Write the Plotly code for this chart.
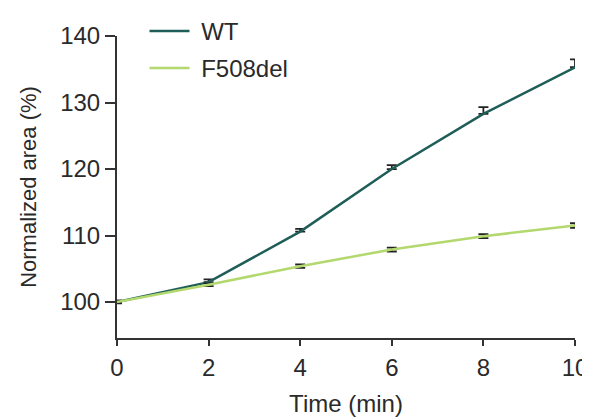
import plotly.graph_objects as go

time_min = [0, 2, 4, 6, 8, 10]
wt_area = [100, 103.0, 110.6, 120.0, 128.3, 135.3]
wt_err = [0.2, 0.4, 0.4, 0.6, 1.0, 1.2]
f508_area = [100, 102.6, 105.4, 107.9, 109.9, 111.5]
f508_err = [0.2, 0.2, 0.25, 0.3, 0.3, 0.35]

x_ticks = [0, 2, 4, 6, 8, 10]
y_ticks = [100, 110, 120, 130, 140]
series_names = ["WT", "F508del"]

fig = go.Figure()
fig.add_trace(go.Scatter(
    x=time_min, y=wt_area, mode="lines", name="\u00a0" + series_names[0],
    line=dict(color="#1f5e58", width=2.5),
    error_y=dict(type="data", array=wt_err, arrayminus=[0]*len(wt_err),
                 symmetric=False, color="#222222", thickness=1.8, width=5),
    legendgroup="a",
))
fig.add_trace(go.Scatter(
    x=time_min, y=f508_area, mode="lines", name="\u00a0" + series_names[1],
    line=dict(color="#b2d86e", width=2.5),
    error_y=dict(type="data", array=f508_err, color="#222222", thickness=1.8, width=5),
    legendgroup="b",
))

FAM = "Liberation Sans, Arial, sans-serif"
TXT = "#2a2a2a"
tick_font = dict(family=FAM, size=24, color=TXT)
fig.update_layout(
    width=582, height=409,
    margin=dict(l=109, r=15, t=28, b=79, autoexpand=False),
    paper_bgcolor="white", plot_bgcolor="white",
    font=dict(family=FAM, color=TXT),
    showlegend=True,
    legend=dict(x=0.06, y=1.09, xanchor="left", yanchor="top",
                font=dict(size=24, color=TXT), itemwidth=40,
                bgcolor="rgba(0,0,0,0)", traceorder="grouped", tracegroupgap=3),
    xaxis=dict(range=[0, 10], tickvals=x_ticks, showline=True, linecolor="#333333",
               linewidth=2, ticks="outside", ticklen=6, tickwidth=2, tickcolor="#333333",
               showgrid=False, zeroline=False, tickfont=tick_font, ticklabelstandoff=1,
               title=dict(text="Time (min)", font=dict(size=24, color=TXT), standoff=18)),
    yaxis=dict(range=[94.6, 140], tickvals=y_ticks, showline=True, linecolor="#333333",
               linewidth=2, ticks="outside", ticklen=10, tickwidth=2, tickcolor="#333333",
               showgrid=False, zeroline=False, tickfont=tick_font,
               title=dict(text="Normalized area (%)", font=dict(size=22, color=TXT), standoff=17)),
)

fig.write_html("out.html")
